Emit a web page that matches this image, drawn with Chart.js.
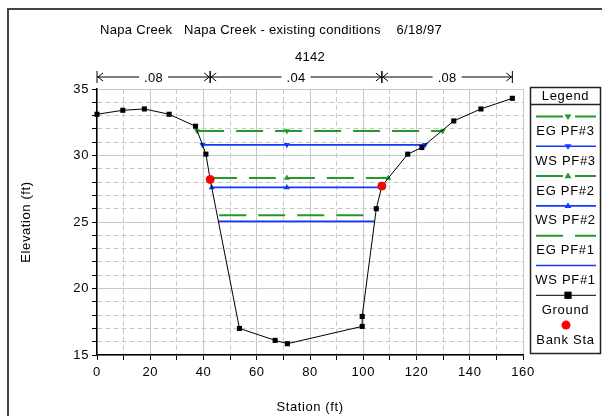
<!DOCTYPE html>
<html>
<head>
<meta charset="utf-8">
<script src="https://cdn.jsdelivr.net/npm/chart.js@4"></script>
<style>
  html, body { margin: 0; padding: 0; background: #fff; }
</style>
</head>
<body>
<canvas id="chart" width="602" height="416"></canvas>
<script>
// ground profile (station ft, elevation ft)
const groundSta  = [0, 9.7, 17.8, 27.1, 37, 40.9, 42.5, 53.5, 66.9, 71.5, 99.6, 99.6, 104.9, 107, 116.7, 122, 134, 144.2, 156];
const groundElev = [33.1, 33.4, 33.5, 33.1, 32.2, 30.1, 28.2, 17.0, 16.1, 15.85, 17.15, 17.9, 26.0, 27.7, 30.1, 30.6, 32.6, 33.5, 34.3];

// bank stations
const bankSta  = [42.5, 107];
const bankElev = [28.2, 27.7];

// water surfaces / energy grades
const eg3Sta = [37.6, 71.3, 129.8];  const eg3Elev = [31.85, 31.85, 31.85];
const ws3Sta = [39.6, 71.3, 123.2];  const ws3Elev = [30.8, 30.8, 30.8];
const eg2Sta = [42.4, 71.3, 109.4];  const eg2Elev = [28.3, 28.3, 28.3];
const ws2Sta = [43.1, 71.3, 106.9];  const ws2Elev = [27.6, 27.6, 27.6];
const eg1Sta = [45.9, 103.8];        const eg1Elev = [25.5, 25.5];
const ws1Sta = [45.6, 104.3];        const ws1Elev = [25.05, 25.05];

// Manning's n regions
const nBounds = [0, 42.5, 107, 156];
const nValues = ['.08', '.04', '.08'];

const titleText = 'Napa Creek   Napa Creek - existing conditions    6/18/97';
const sectionText = '4142';

const GREEN = '#23992a';
const BLUE = '#1437ff';
const FONT = '"Liberation Sans", Arial, sans-serif';

function pts(xs, ys) {
  return xs.map((x, i) => ({ x: x, y: ys[i] }));
}

const groundRadius = groundSta.map(s => bankSta.includes(s) ? 0 : 3.6);

const datasets = [
  { label: 'Bank Sta', data: pts(bankSta, bankElev), showLine: false,
    pointStyle: 'circle', pointRadius: 4, backgroundColor: '#ff0000', borderColor: '#ff0000', clip: false },
  { label: 'Ground', data: pts(groundSta, groundElev), borderColor: '#000', borderWidth: 1,
    pointStyle: 'rect', pointRadius: groundRadius, backgroundColor: '#000', pointBorderWidth: 0, clip: false },
  { label: 'EG PF#3', data: pts(eg3Sta, eg3Elev), borderColor: GREEN, borderWidth: 2, borderDash: [27, 12],
    pointStyle: 'triangle', rotation: 180, pointRadius: 3.5, backgroundColor: GREEN, pointBorderWidth: 0 },
  { label: 'WS PF#3', data: pts(ws3Sta, ws3Elev), borderColor: BLUE, borderWidth: 1.6,
    pointStyle: 'triangle', rotation: 180, pointRadius: 3.5, backgroundColor: BLUE, pointBorderWidth: 0 },
  { label: 'EG PF#2', data: pts(eg2Sta, eg2Elev), borderColor: GREEN, borderWidth: 2, borderDash: [27, 12],
    pointStyle: 'triangle', pointRadius: 3.5, backgroundColor: GREEN, pointBorderWidth: 0 },
  { label: 'WS PF#2', data: pts(ws2Sta, ws2Elev), borderColor: BLUE, borderWidth: 1.6,
    pointStyle: 'triangle', pointRadius: 3.5, backgroundColor: BLUE, pointBorderWidth: 0 },
  { label: 'EG PF#1', data: pts(eg1Sta, eg1Elev), borderColor: GREEN, borderWidth: 2, borderDash: [27, 12],
    pointRadius: 0 },
  { label: 'WS PF#1', data: pts(ws1Sta, ws1Elev), borderColor: BLUE, borderWidth: 1.6,
    pointRadius: 0 }
];

// legend order in the box
const legendOrder = ['EG PF#3', 'WS PF#3', 'EG PF#2', 'WS PF#2', 'EG PF#1', 'WS PF#1', 'Ground', 'Bank Sta'];

function marker(ctx, style, rot, x, y, r, color) {
  ctx.save();
  ctx.fillStyle = color;
  ctx.beginPath();
  if (style === 'rect') {
    ctx.rect(x - r, y - r, r * 2, r * 2);
  } else if (style === 'circle') {
    ctx.arc(x, y, r, 0, Math.PI * 2);
  } else if (style === 'triangle') {
    const d = rot === 180 ? -1 : 1;
    ctx.moveTo(x, y - d * r);
    ctx.lineTo(x - r, y + d * r * 0.6);
    ctx.lineTo(x + r, y + d * r * 0.6);
    ctx.closePath();
  }
  ctx.fill();
  ctx.restore();
}

const decor = {
  id: 'decor',
  beforeDraw(chart) {
    const ctx = chart.ctx;
    ctx.save();
    ctx.fillStyle = '#fff';
    ctx.fillRect(0, 0, chart.width, chart.height);
    // outer frame
    ctx.strokeStyle = '#444';
    ctx.lineWidth = 2;
    ctx.beginPath();
    ctx.moveTo(8, chart.height);
    ctx.lineTo(8, 9);
    ctx.lineTo(chart.width, 9);
    ctx.stroke();
    ctx.restore();
    // slightly wider text, like the old bitmap font
    ctx.letterSpacing = '0.6px';
  },
  afterDraw(chart) {
    const ctx = chart.ctx;
    const xs = chart.scales.x;
    ctx.save();
    ctx.fillStyle = '#000';
    ctx.font = '13px ' + FONT;
    ctx.textAlign = 'center';
    ctx.textBaseline = 'middle';
    ctx.letterSpacing = '0.3px';
    ctx.fillText(titleText, 271, 30);
    ctx.fillText(sectionText, 310, 57);

    // n-value bracket line
    const ny = 77;
    ctx.strokeStyle = '#000';
    ctx.lineWidth = 1;
    for (let i = 0; i < nValues.length; i++) {
      const x1 = xs.getPixelForValue(nBounds[i]);
      const x2 = xs.getPixelForValue(nBounds[i + 1]);
      const mid = (x1 + x2) / 2;
      const tw = ctx.measureText(nValues[i]).width / 2 + 5;
      ctx.beginPath();
      ctx.moveTo(x1, ny); ctx.lineTo(mid - tw, ny);
      ctx.moveTo(mid + tw, ny); ctx.lineTo(x2, ny);
      // end bars
      ctx.moveTo(x1, ny - 6); ctx.lineTo(x1, ny + 6);
      ctx.moveTo(x2, ny - 6); ctx.lineTo(x2, ny + 6);
      // arrowheads
      ctx.moveTo(x1 + 6, ny - 4); ctx.lineTo(x1 + 1, ny); ctx.lineTo(x1 + 6, ny + 4);
      ctx.moveTo(x2 - 6, ny - 4); ctx.lineTo(x2 - 1, ny); ctx.lineTo(x2 - 6, ny + 4);
      ctx.stroke();
      ctx.fillText(nValues[i], mid, ny + 1);
    }

    // legend box
    const bx = 530.5, by = 87.5, bw = 70, bh = 266;
    ctx.strokeStyle = '#222';
    ctx.lineWidth = 1.5;
    ctx.strokeRect(bx, by, bw, bh);
    ctx.beginPath();
    ctx.moveTo(bx, 104.5); ctx.lineTo(bx + bw, 104.5);
    ctx.stroke();
    const cx = bx + bw / 2;
    ctx.letterSpacing = '0.7px';
    ctx.fillText('Legend', cx, 96.5);

    legendOrder.forEach((name, i) => {
      const ds = chart.data.datasets.find(d => d.label === name);
      const ly = 116.5 + i * 29.8;
      if (name !== 'Bank Sta') {
        ctx.save();
        ctx.strokeStyle = ds.borderColor;
        ctx.lineWidth = ds.borderWidth;
        ctx.setLineDash(ds.borderDash || []);
        ctx.beginPath();
        ctx.moveTo(536, ly); ctx.lineTo(596, ly);
        ctx.stroke();
        ctx.restore();
        const r = Array.isArray(ds.pointRadius) ? 3.6 : ds.pointRadius;
        if (r) marker(ctx, ds.pointStyle, ds.rotation || 0, 568, ly, r, ds.backgroundColor);
      } else {
        marker(ctx, 'circle', 0, 566, ly, 4.5, ds.backgroundColor);
      }
      ctx.fillText(name, cx, ly + 15);
    });
    ctx.restore();
  }
};

new Chart(document.getElementById('chart'), {
  type: 'line',
  data: { datasets: datasets },
  options: {
    responsive: false,
    animation: false,
    layout: { padding: { left: 0, top: 89, right: 79, bottom: 0 } },
    plugins: { legend: { display: false }, tooltip: { enabled: false } },
    scales: {
      x: {
        type: 'linear', min: 0, max: 160,
        afterFit: s => { s.height = 61; },
        ticks: { stepSize: 10, autoSkip: false, maxRotation: 0, padding: 5, color: '#000',
                 font: { family: FONT, size: 13 },
                 callback: v => (v % 20 === 0 ? v : '') },
        grid: { color: '#c8c8c8', lineWidth: 1, tickColor: '#000', tickLength: 5 },
        border: { color: '#000', width: 1.5,
                  dash: c => (c.tick && c.tick.value % 20 !== 0 ? [5, 3] : []) },
        title: { display: true, text: 'Station (ft)', color: '#000',
                 font: { family: FONT, size: 13 }, padding: { top: 0, bottom: 1 } }
      },
      y: {
        type: 'linear', min: 15, max: 35,
        afterFit: s => { s.width = 97; },
        ticks: { stepSize: 1, autoSkip: false, padding: 3, color: '#000',
                 font: { family: FONT, size: 13 },
                 callback: v => (v % 5 === 0 ? v : '') },
        grid: { color: '#c8c8c8', lineWidth: 1, tickColor: '#000', tickLength: 5 },
        border: { color: '#000', width: 1.5,
                  dash: c => (c.tick && c.tick.value % 5 !== 0 ? [5, 3] : []) },
        title: { display: true, text: 'Elevation (ft)', color: '#000',
                 font: { family: FONT, size: 13 }, padding: { top: 19, bottom: 0 } }
      }
    }
  },
  plugins: [decor]
});
</script>
</body>
</html>
